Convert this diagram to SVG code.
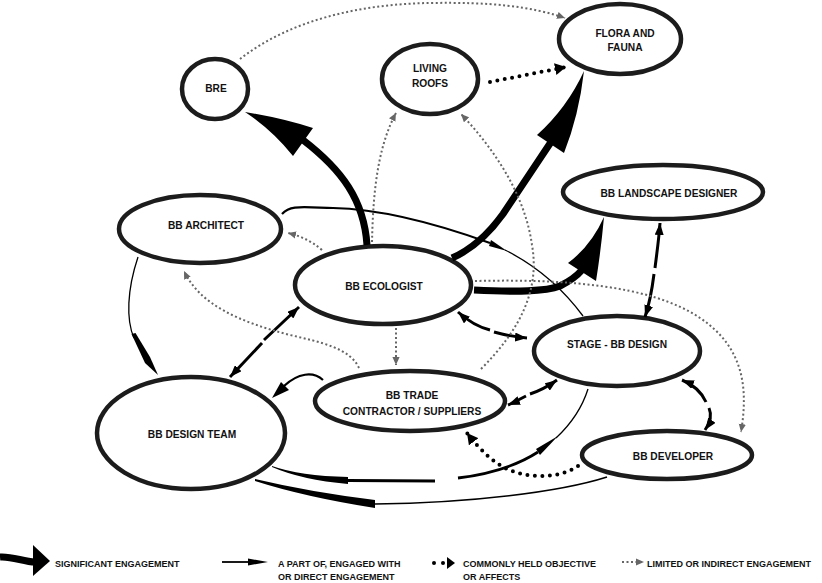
<svg xmlns="http://www.w3.org/2000/svg" width="822" height="583" viewBox="0 0 822 583">
<style>
.node ellipse{fill:#fff;stroke:#1c1c1c;stroke-width:4.5}
.node text,.legend text{font-family:"Liberation Sans",Arial,sans-serif;font-weight:bold;fill:#111}
.node text{font-size:10.2px;text-anchor:middle}
.legend text{font-size:9px}
.sig{fill:none;stroke:#000;stroke-width:7}
.head{fill:#000;stroke:none}
.direct{fill:none;stroke:#000;stroke-width:2.2}
.thin{fill:none;stroke:#000;stroke-width:1.3}
.dash{fill:none;stroke:#000;stroke-width:3;marker-end:url(#hd)}
.common{fill:none;stroke:#000;stroke-width:4;stroke-linecap:round;stroke-dasharray:0 7.5}
.ch{marker-end:url(#hc)}
.lim{fill:none;stroke:#666;stroke-width:2;stroke-dasharray:2 2.5}
.lh{marker-end:url(#hl)}
</style>
<defs>
<marker id="hl" viewBox="0 0 10 10" refX="10" refY="5" markerWidth="8" markerHeight="8" markerUnits="userSpaceOnUse" orient="auto"><path d="M0,0.5 L10,5 L0,9.5z" fill="#666"/></marker>
<marker id="hc" viewBox="0 0 10 10" refX="10" refY="5" markerWidth="11" markerHeight="12" markerUnits="userSpaceOnUse" orient="auto" preserveAspectRatio="none"><path d="M0,0 L10,5 L0,10z" fill="#000"/></marker>
<marker id="hd" viewBox="0 0 12 9" refX="12" refY="4.5" markerWidth="12" markerHeight="9" markerUnits="userSpaceOnUse" orient="auto"><path d="M0,0 L12,4.5 L0,9z" fill="#000"/></marker>
</defs>

<g id="node-bre" class="node"><ellipse cx="215" cy="89" rx="33" ry="30"/><text x="216" y="92">BRE</text></g>
<g id="node-living-roofs" class="node"><ellipse cx="430" cy="79" rx="48" ry="35"/><text x="430" y="72">LIVING</text><text x="430" y="87">ROOFS</text></g>
<g id="node-flora" class="node"><ellipse cx="620" cy="39" rx="61" ry="35"/><text x="625" y="36.5">FLORA AND</text><text x="625" y="51">FAUNA</text></g>
<g id="node-landscape" class="node"><ellipse cx="663" cy="192" rx="100" ry="27"/><text x="669" y="196.5">BB LANDSCAPE DESIGNER</text></g>
<g id="node-architect" class="node"><ellipse cx="200" cy="229" rx="81" ry="34"/><text x="206" y="228.5">BB ARCHITECT</text></g>
<g id="node-ecologist" class="node"><ellipse cx="383" cy="285" rx="88" ry="39"/><text x="384" y="290">BB ECOLOGIST</text></g>
<g id="node-stage" class="node"><ellipse cx="617" cy="351" rx="83" ry="35"/><text x="617" y="347.5">STAGE - BB DESIGN</text></g>
<g id="node-trade" class="node"><ellipse cx="410" cy="401" rx="95" ry="30"/><text x="412" y="398.5">BB TRADE</text><text x="412" y="414.5">CONTRACTOR / SUPPLIERS</text></g>
<g id="node-design-team" class="node"><ellipse cx="191" cy="433" rx="94" ry="56"/><text x="192" y="437.5">BB DESIGN TEAM</text></g>
<g id="node-developer" class="node"><ellipse cx="667" cy="455" rx="85" ry="24"/><text x="673" y="459.5">BB DEVELOPER</text></g>

<g id="connectors">
<!-- significant -->
<path class="sig" d="M367,245 C364,200 342,170 303,140"/>
<path class="head" d="M245,112 Q282,118 313,128 L293,156 Q272,130 245,112 Z"/>
<path class="sig" d="M452,258 C475,248 490,232 503,214 L551,142"/>
<path class="head" d="M584,71 Q567,108 537,135 L564,153 Q579,115 584,71 Z"/>
<path class="sig" d="M474,290 C515,292 545,292 560,286 C570,281 576,277 582,270"/>
<path class="head" d="M604,217 Q591,246 568,263 L596,281 Q601,250 604,217 Z"/>
<!-- direct -->
<path class="direct" d="M282,214 C290,205 300,207 333,208 C380,209 432,222 490,243"/>
<polygon class="head" points="491,240 489,246 507,251"/>
<path class="thin" d="M505,250 C535,265 560,285 583,316"/>
<path class="thin" d="M138,257 C127,290 126,320 134,338"/>
<polygon class="head" points="131.5,334 135.5,333 150,357 158,375 145,363"/>
<path class="direct" d="M323,380 C313,371 298,373 284,386"/>
<polygon class="head" points="272,398 281,382 289,390"/>
<path class="head" d="M272,466 Q300,476 348,477 L348,484 Q302,480 272,467 Z"/>
<path class="direct" style="stroke-width:2.8" d="M348,480.5 L435,481"/>
<path class="direct" style="stroke-width:2.8" d="M458,478 C490,474 518,465 538,452"/>
<polygon class="head" points="536,449 540,455 558,436"/>
<path class="thin" d="M556,438 C570,425 582,408 588,389"/>
<path class="thin" style="stroke-width:1.6" d="M607,477 C560,492 470,503 375,504"/>
<path class="head" d="M255,479 Q310,492 375,500 L375,508 Q305,497 255,481 Z"/>
<!-- dashed double-headed -->
<path class="dash" d="M264,340 L299,307"/>
<path class="dash" d="M262,343 L230,377"/>
<path class="dash" d="M490,330 C478,327 468,321 458,312"/>
<path class="dash" d="M494,332 C505,335 515,337 527,338"/>
<path class="dash" d="M530,394 C542,390 550,385 557,380"/>
<path class="dash" d="M526,396 C518,400 513,403 508,405"/>
<path class="dash" d="M655,268 C657,252 659,238 660,223"/>
<path class="dash" d="M654,274 C652,290 649,305 645,317"/>
<path class="dash" d="M706,402 C702,393 694,385 682,380"/>
<path class="dash" d="M709,408 C712,415 710,423 705,430"/>
<!-- commonly held -->
<path class="common ch" d="M490,82 L566,67"/>
<path class="common ch" d="M578,466 C560,478 530,480 505,468 C492,461 480,450 467,433"/>
<!-- limited -->
<path class="lim lh" d="M240,59 C290,20 360,4 430,3 C490,2 530,6 565,18"/>
<path class="lim lh" d="M322,250 C310,240 300,236 288,233"/>
<path class="lim lh" d="M372,242 C373,200 376,150 396,113"/>
<path class="lim lh" d="M481,369 C520,330 540,290 532,245 C525,195 495,150 461,114"/>
<path class="lim lh" d="M396,328 L396,365"/>
<path class="lim lh" d="M359,368 C350,348 320,342 290,335 C240,322 200,305 184,271"/>
<path class="lim lh" d="M475,281 C560,279 650,284 700,318 C745,348 748,390 741,432"/>
</g>

<g id="legend" class="legend">
<path class="sig" d="M0,557 C12,556 24,562 35,562"/>
<polygon class="head" points="33,545 50,561 33,576"/>
<text x="55" y="566.5">SIGNIFICANT ENGAGEMENT</text>
<path class="thin" style="stroke-width:1.8" d="M222,562 L252,562"/>
<polygon class="head" points="248,558.5 268,562 248,565.5"/>
<text x="278" y="566.5">A PART OF, ENGAGED WITH</text>
<text x="278" y="580">OR DIRECT ENGAGEMENT</text>
<circle cx="434" cy="563" r="2"/>
<circle cx="443" cy="563" r="2"/>
<polygon class="head" points="447,557 455,563 447,569"/>
<text x="463" y="566.5">COMMONLY HELD OBJECTIVE</text>
<text x="463" y="580">OR AFFECTS</text>
<path class="lim lh" d="M622,562 L644,562"/>
<text x="647" y="566.5">LIMITED OR INDIRECT ENGAGEMENT</text>
</g>
</svg>
